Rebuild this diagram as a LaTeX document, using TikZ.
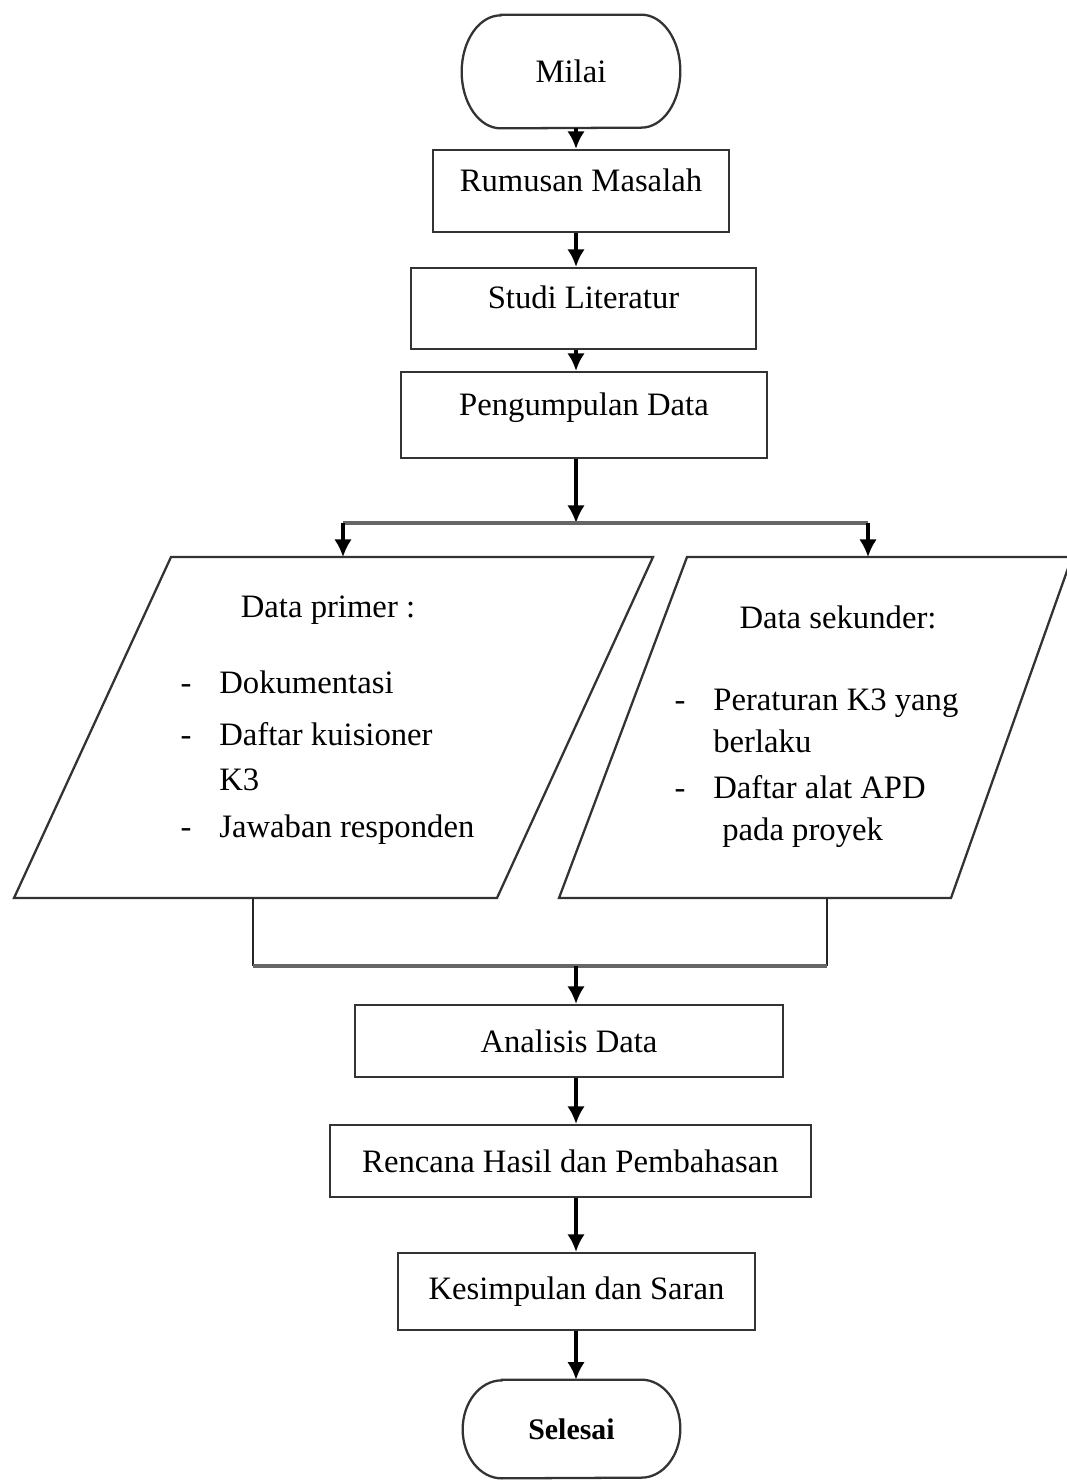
\documentclass[tikz,border=0pt]{standalone}
\usepackage{fontspec}
\setmainfont{Liberation Serif}
\usetikzlibrary{arrows.meta}
\begin{document}
\begin{tikzpicture}[x=0.02cm,y=-0.02cm,
  every node/.style={font=\fontsize{18.6}{22}\selectfont, inner sep=0pt},
  frame/.style={draw=black!80, line width=1.3pt},
  procbox/.style={frame, fill=white},
  procup/.style={procbox, text height=0.5cm, text depth=0.5cm},
  term/.style={inner sep=0pt},
  arr/.style={draw=black, line width=1.8pt, -{Latex[length=10pt,width=10pt]}},
  thinline/.style={draw=black!85, line width=1.3pt},
  bus/.style={draw=black!60, line width=2pt}]
\useasboundingbox (0,0) rectangle (1067,1481);
\fill[white] (0,0) rectangle (1067,1481);
\coordinate (trunk) at (576,0);
% top chain
\node[term, minimum width=4.36cm, minimum height=2.26cm] (mulai) at (571,71.5) {Milai};
\draw[frame] ([xshift=0.78cm]mulai.north west) -- ([xshift=-0.78cm]mulai.north east)
  arc[start angle=90,end angle=0,x radius=0.78cm,y radius=1.13cm]
  arc[start angle=0,end angle=-90,x radius=0.78cm,y radius=1.13cm]
  -- ([xshift=0.78cm]mulai.south west)
  arc[start angle=270,end angle=180,x radius=0.78cm,y radius=1.13cm]
  arc[start angle=180,end angle=90,x radius=0.78cm,y radius=1.13cm] -- cycle;
\node[procup, minimum width=5.92cm, minimum height=1.64cm] (rumusan) at (581,191) {Rumusan Masalah};
\node[procup, minimum width=6.9cm, minimum height=1.62cm] (studi) at (583.5,308.5) {Studi Literatur};
\node[procup, minimum width=7.32cm, minimum height=1.72cm] (kumpul) at (584,415) {Pengumpulan Data};
% parallelograms
\coordinate (pL1) at (171,557); \coordinate (pL2) at (653,557);
\coordinate (pL3) at (497,898); \coordinate (pL4) at (14,898);
\draw[frame] (pL1) -- (pL2) -- (pL3) -- (pL4) -- cycle;
\coordinate (pR1) at (687,557); \coordinate (pR2) at (1072,557);
\coordinate (pR3) at (951,898); \coordinate (pR4) at (559,898);
\draw[frame] (pR1) -- (pR2) -- (pR3) -- (pR4) -- cycle;
% left text
\node[anchor=base] (dp) at (328,617) {Data primer :};
\node[anchor=base] (b1) at (186,693) {-};
\node[anchor=base west] (t1) at (219,693) {Dokumentasi};
\node[anchor=base] (b2) at (186,745) {-};
\node[anchor=base west] (t2) at (219,745) {Daftar kuisioner};
\node[anchor=base west] (t3) at (219,790) {K3};
\node[anchor=base] (b4) at (186,837) {-};
\node[anchor=base west] (t4) at (219,837) {Jawaban responden};
% right text
\node[anchor=base] (ds) at (838,628) {Data sekunder:};
\node[anchor=base] (b5) at (680,710) {-};
\node[anchor=base west] (t5) at (713,710) {Peraturan K3 yang};
\node[anchor=base west] (t6) at (713,752) {berlaku};
\node[anchor=base] (b7) at (680,798) {-};
\node[anchor=base west] (t7) at (713,798) {Daftar alat APD};
\node[anchor=base west] (t8) at (722,840) {pada proyek};
% bottom chain
\node[procbox, minimum width=8.56cm, minimum height=1.44cm] (analisis) at (569,1041) {Analisis Data};
\node[procbox, minimum width=9.62cm, minimum height=1.44cm] (rencana) at (570.5,1161) {Rencana Hasil dan Pembahasan};
\node[procbox, minimum width=7.14cm, minimum height=1.54cm] (simpul) at (576.5,1291.5) {Kesimpulan dan Saran};
\node[term, minimum width=4.34cm, minimum height=1.96cm,
      font=\fontsize{17}{20}\selectfont\bfseries] (selesai) at (571.5,1429) {Selesai};
\draw[frame] ([xshift=0.78cm]selesai.north west) -- ([xshift=-0.78cm]selesai.north east)
  arc[start angle=90,end angle=0,x radius=0.78cm,y radius=0.98cm]
  arc[start angle=0,end angle=-90,x radius=0.78cm,y radius=0.98cm]
  -- ([xshift=0.78cm]selesai.south west)
  arc[start angle=270,end angle=180,x radius=0.78cm,y radius=0.98cm]
  arc[start angle=180,end angle=90,x radius=0.78cm,y radius=0.98cm] -- cycle;
% connectors
\draw[arr] (mulai.south -| trunk) -- (rumusan.north -| trunk);
\draw[arr] (rumusan.south -| trunk) -- (studi.north -| trunk);
\draw[arr] (studi.south -| trunk) -- (kumpul.north -| trunk);
\coordinate (split) at (576,523);
\coordinate (splitL) at (343,523);
\coordinate (splitR) at (868,523);
\coordinate (inL) at (343,557);
\coordinate (inR) at (868,557);
\draw[arr] (kumpul.south -| trunk) -- (split);
\draw[bus] (splitL) -- (splitR);
\draw[arr] (splitL) -- (inL);
\draw[arr] (splitR) -- (inR);
\coordinate (outL) at (253,898);
\coordinate (outR) at (827,898);
\coordinate (joinL) at (253,966);
\coordinate (joinR) at (827,966);
\coordinate (join) at (576,966);
\draw[thinline] (outL) -- (joinL);
\draw[thinline] (outR) -- (joinR);
\draw[bus] (joinL) -- (joinR);
\draw[arr] (join) -- (analisis.north -| trunk);
\draw[arr] (analisis.south -| trunk) -- (rencana.north -| trunk);
\draw[arr] (rencana.south -| trunk) -- (simpul.north -| trunk);
\draw[arr] (simpul.south -| trunk) -- (selesai.north -| trunk);
\end{tikzpicture}
\end{document}
